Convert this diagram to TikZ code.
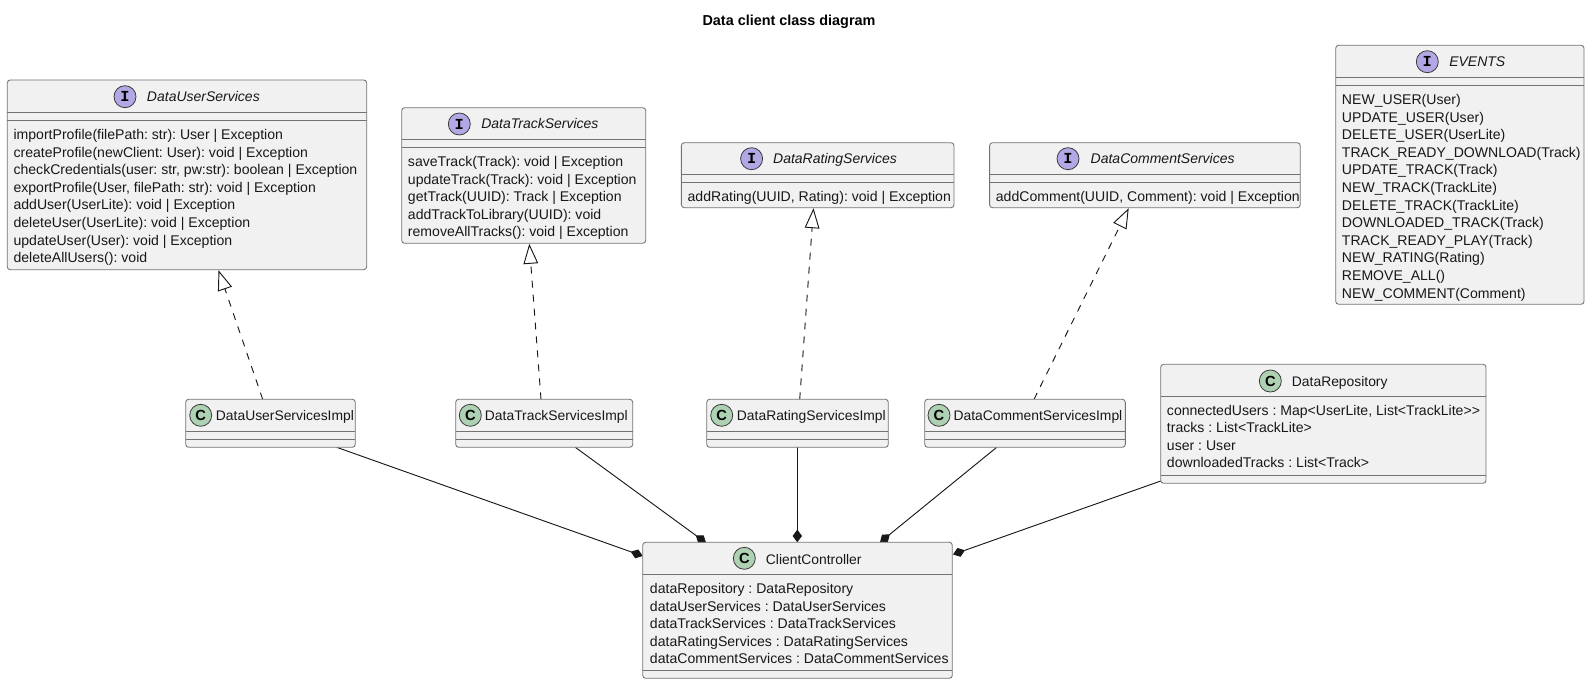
\documentclass[tikz,border=0pt]{standalone}
\usepackage{fontspec}
\setmainfont{Liberation Sans}
\newfontfamily\glyphfont{Liberation Mono}
\usetikzlibrary{arrows.meta,calc,backgrounds}
\newcommand{\mbfont}{\frenchspacing\fontsize{10.55pt}{13.2pt}\selectfont}
\newcommand{\hdfont}{\fontsize{10.4pt}{13.2pt}\selectfont}
\newcommand{\itfont}{\fontsize{10.5pt}{13.2pt}\selectfont\itshape}
\newcommand{\firstline}{\rule{0pt}{10pt}}
\colorlet{boxline}{black!55}
\definecolor{boxfill}{HTML}{F1F1F1}
\definecolor{ifill}{HTML}{B4A7E5}
\definecolor{cfill}{HTML}{ADD1B2}
\definecolor{ink}{HTML}{181818}
\tikzset{
  x=.75pt,y=-.75pt,
  umlframe/.style={draw=boxline,fill=boxfill,line width=.65pt,rounded corners=2.2pt,inner sep=0pt,outer sep=0pt,rectangle},
  divider/.style={draw=boxline,line width=.65pt},
  headtext/.style={font=\hdfont,text=ink,anchor=base west,inner sep=0pt},
  ifacetext/.style={headtext,font=\itfont},
  members/.style={font=\mbfont,text=ink,anchor=north west,inner sep=0pt,align=left},
  badge/.style={circle,draw=ink!85,line width=.6pt,minimum size=16.5pt,inner sep=0pt,text=black},
  ibadge/.style={badge,fill=ifill,font=\glyphfont\bfseries\fontsize{11.5pt}{12pt}\selectfont},
  cbadge/.style={badge,fill=cfill,font=\bfseries\fontsize{11pt}{12pt}\selectfont},
  realize/.style={draw=ink,line width=.7pt,dash pattern=on 5.25pt off 5.25pt,-{Triangle[open,fill=white,length=15pt,width=11pt,line width=.7pt,sep=0pt]}},
  compose/.style={draw=ink,line width=.7pt,-{Diamond[length=9.5pt,width=7pt,sep=0pt]}},
}
% id, x1, y1, x2, y2, first divider y, second divider y
\newcommand{\umlbox}[7]{%
  \node[umlframe,minimum width={(#4-#2)*.75pt},minimum height={(#5-#3)*.75pt}] (#1) at ({(#2+#4)/2},{(#3+#5)/2}) {};
  \draw[divider] (#2,#6) -- (#4,#6);
  \draw[divider] (#2,#7) -- (#4,#7);
}
\begin{document}
\begin{tikzpicture}
\useasboundingbox (0,0) rectangle (1590,684);
\node[font=\fontsize{10.8pt}{13pt}\selectfont\bfseries,text=black,inner sep=0pt] (title) at (789,22) {Data client class diagram};

% interfaces
\umlbox{dus}{7.3}{80}{366.7}{269.7}{112.3}{120.3}
\node[ibadge] (dusB) at (125,96.7) {I};
\node[ifacetext] (dusT) at (146.7,101.7) {DataUserServices};
\node[members] (dusM) at (13.3,125.8) {\firstline importProfile(filePath: str): User | Exception\\
createProfile(newClient: User): void | Exception\\
checkCredentials(user: str, pw:str): boolean | Exception\\
exportProfile(User, filePath: str): void | Exception\\
addUser(UserLite): void | Exception\\
deleteUser(UserLite): void | Exception\\
updateUser(User): void | Exception\\
deleteAllUsers(): void};

\umlbox{dts}{401.7}{107.7}{645.7}{243.3}{139.3}{147.3}
\node[ibadge] (dtsB) at (459.3,124) {I};
\node[ifacetext] (dtsT) at (481,128.6) {DataTrackServices};
\node[members] (dtsM) at (407.7,152.8) {\firstline saveTrack(Track): void | Exception\\
updateTrack(Track): void | Exception\\
getTrack(UUID): Track | Exception\\
addTrackToLibrary(UUID): void\\
removeAllTracks(): void | Exception};

\umlbox{drs}{681.4}{142.7}{954}{207.7}{174.3}{182.3}
\node[ibadge] (drsB) at (751.6,158.7) {I};
\node[ifacetext] (drsT) at (772.9,163.6) {DataRatingServices};
\node[members] (drsM) at (687.4,187.8) {\firstline addRating(UUID, Rating): void | Exception};

\umlbox{dcs}{989.6}{142.7}{1300.2}{207.7}{174.3}{182.3}
\node[ibadge] (dcsB) at (1068,158.7) {I};
\node[ifacetext] (dcsT) at (1090.4,163.6) {DataCommentServices};
\node[members] (dcsM) at (995.6,187.8) {\firstline addComment(UUID, Comment): void | Exception};

\umlbox{ev}{1335.7}{45.3}{1584}{304.3}{77.3}{85.3}
\node[ibadge] (evB) at (1427.3,61.7) {I};
\node[ifacetext] (evT) at (1449,66.7) {EVENTS};
\node[members] (evM) at (1341.7,90.8) {\firstline NEW\_USER(User)\\
UPDATE\_USER(User)\\
DELETE\_USER(UserLite)\\
TRACK\_READY\_DOWNLOAD(Track)\\
UPDATE\_TRACK(Track)\\
NEW\_TRACK(TrackLite)\\
DELETE\_TRACK(TrackLite)\\
DOWNLOADED\_TRACK(Track)\\
TRACK\_READY\_PLAY(Track)\\
NEW\_RATING(Rating)\\
REMOVE\_ALL()\\
NEW\_COMMENT(Comment)};

% implementations
\umlbox{dusi}{185.7}{399.3}{355.3}{447.3}{431.3}{439.3}
\node[cbadge] (dusiB) at (200.7,415.3) {C};
\node[headtext] (dusiT) at (215.7,420.7) {DataUserServicesImpl};

\umlbox{dtsi}{455.7}{399.3}{632.7}{447.3}{431.3}{439.3}
\node[cbadge] (dtsiB) at (470.3,415.3) {C};
\node[headtext] (dtsiT) at (484.7,420.7) {DataTrackServicesImpl};

\umlbox{drsi}{706.7}{399.3}{888.3}{447.3}{431.3}{439.3}
\node[cbadge] (drsiB) at (721.7,415.3) {C};
\node[headtext] (drsiT) at (736.7,420.7) {DataRatingServicesImpl};

\umlbox{dcsi}{924.7}{399.3}{1125.3}{447.3}{431.3}{439.3}
\node[cbadge] (dcsiB) at (939,415.3) {C};
\node[headtext] (dcsiT) at (953.3,420.7) {DataCommentServicesImpl};

% repository
\umlbox{repo}{1160.7}{364.3}{1486}{483.3}{396}{475.3}
\node[cbadge] (repoB) at (1270.3,381) {C};
\node[headtext] (repoT) at (1291.7,386) {DataRepository};
\node[members] (repoM) at (1166.7,401.5) {\firstline connectedUsers : Map<UserLite, List<TrackLite>{}>\\
tracks : List<TrackLite>\\
user : User\\
downloadedTracks : List<Track>};

% controller
\umlbox{cc}{642.7}{542.3}{952.3}{678.3}{574.3}{670.3}
\node[cbadge] (ccB) at (744.3,558.3) {C};
\node[headtext] (ccT) at (765.7,564) {ClientController};
\node[members] (ccM) at (649.7,579.8) {\firstline dataRepository : DataRepository\\
dataUserServices : DataUserServices\\
dataTrackServices : DataTrackServices\\
dataRatingServices : DataRatingServices\\
dataCommentServices : DataCommentServices};

\begin{pgfonlayer}{background}
\draw[realize] ($(dusi.north west)+(77,0)$) -- ($(dus.south west)+(211.2,.5)$);
\draw[realize] ($(dtsi.north west)+(85.3,0)$) -- ($(dts.south west)+(127.6,.5)$);
\draw[realize] ($(drsi.north west)+(93,0)$) -- ($(drs.south west)+(132.1,.5)$);
\draw[realize] ($(dcsi.north west)+(109.3,0)$) -- ($(dcs.south west)+(139.1,.5)$);
\draw[compose] ($(dusi.south west)+(151,0)$) -- ($(cc.north west)+(0,13.7)$);
\draw[compose] ($(dtsi.south west)+(119.6,0)$) -- ($(cc.north west)+(63.3,.5)$);
\draw[compose] ($(drsi.south west)+(90.6,0)$) -- ($(cc.north west)+(154.6,0)$);
\draw[compose] ($(dcsi.south west)+(72,0)$) -- ($(cc.north west)+(237.3,0)$);
\draw[compose] ($(repo.south west)+(0,-2.3)$) -- ($(cc.north east)+(.7,12.2)$);
\end{pgfonlayer}
\end{tikzpicture}
\end{document}
